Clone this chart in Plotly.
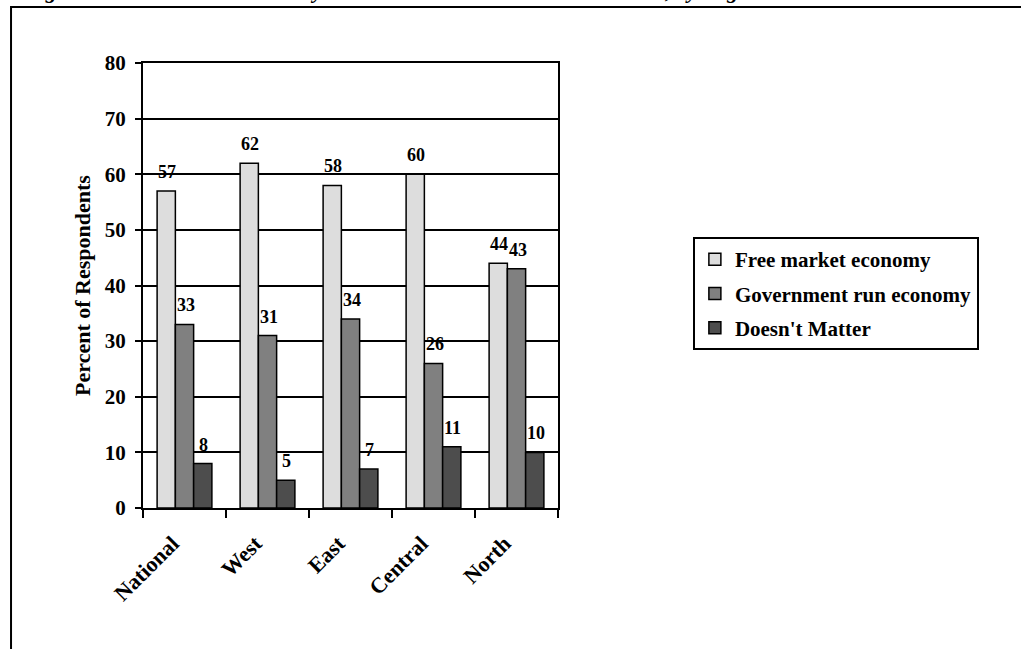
import plotly.graph_objects as go

# Survey results: preferred type of economy, by region (percent of respondents)
regions = ["National", "West", "East", "Central", "North"]
free_market = [57, 62, 58, 60, 44]
government_run = [33, 31, 34, 26, 43]
doesnt_matter = [8, 5, 7, 11, 10]

series_names = ["Free market economy", "Government run economy", "Doesn't Matter"]
series_values = [free_market, government_run, doesnt_matter]
series_colors = ["#DDDDDD", "#808080", "#4D4D4D"]

y_ticks = [0, 10, 20, 30, 40, 50, 60, 70, 80]

FONT = "Liberation Serif"

fig = go.Figure()
for name, vals, col in zip(series_names, series_values, series_colors):
    fig.add_trace(go.Bar(
        x=regions, y=vals, name=name, legendgroup=name,
        marker=dict(color=col, line=dict(color="black", width=1.5)),
    ))

# Value labels above each bar, offset to sit over the bar within its group
bar_px = 18.4
for i, vals in enumerate(series_values):
    for reg, v in zip(regions, vals):
        fig.add_annotation(
            x=reg, y=v, xref="x", yref="y", text=f"<b>{v}</b>",
            showarrow=False, xanchor="center", yanchor="bottom",
            xshift=(i - 1) * bar_px + 1, yshift=7,
            font=dict(family=FONT, size=18, color="black"),
        )

# Chart frame
fig.add_shape(type="rect", xref="paper", yref="paper",
              x0=-0.318, y0=-1.0, x1=3.0, y1=1.1258,
              line=dict(color="black", width=2), fillcolor="rgba(0,0,0,0)",
              layer="below")

# Caption line at the top of the page
fig.add_annotation(
    xref="paper", yref="paper", x=-0.2916, y=1.1303,
    xanchor="left", yanchor="bottom", showarrow=False,
    text="<b><i>Figure 3: Views on the Economy: Free Market versus State Controlled, by Region</i></b>",
    font=dict(family=FONT, size=22, color="black"),
)

fig.update_layout(
    width=1021, height=649,
    margin=dict(l=143, r=463, t=63, b=141),
    paper_bgcolor="white", plot_bgcolor="white",
    barmode="group", bargap=0.34, bargroupgap=0,
    font=dict(family=FONT, color="black"),
    showlegend=True,
    legend=dict(
        x=1.325, y=0.609, xanchor="left", yanchor="top",
        bordercolor="black", borderwidth=2, bgcolor="white",
        font=dict(family=FONT, size=21, color="black", weight="bold"),
        traceorder="grouped", itemwidth=30, tracegroupgap=4,
    ),
)

fig.update_xaxes(
    showline=True, linecolor="black", linewidth=2, mirror=True,
    ticks="outside", ticklen=8, tickwidth=2, tickcolor="black",
    tickson="boundaries", tickangle=-45,
    tickfont=dict(family=FONT, size=22, color="black", weight="bold"),
    ticklabelstandoff=12, ticklabelshift=-12,
    showgrid=False,
)

fig.update_yaxes(
    range=[0, 80], tickvals=y_ticks, ticktext=[str(t) for t in y_ticks],
    showline=True, linecolor="black", linewidth=2, mirror=True,
    ticks="outside", ticklen=6, tickwidth=2, tickcolor="black",
    showgrid=True, gridcolor="black", gridwidth=2,
    tickfont=dict(family=FONT, size=21, color="black", weight="bold"),
    ticklabelstandoff=5,
    title=dict(text="Percent of Respondents", standoff=8,
               font=dict(family=FONT, size=22, color="black", weight="bold")),
    zeroline=False,
)

fig.write_html("out.html")
